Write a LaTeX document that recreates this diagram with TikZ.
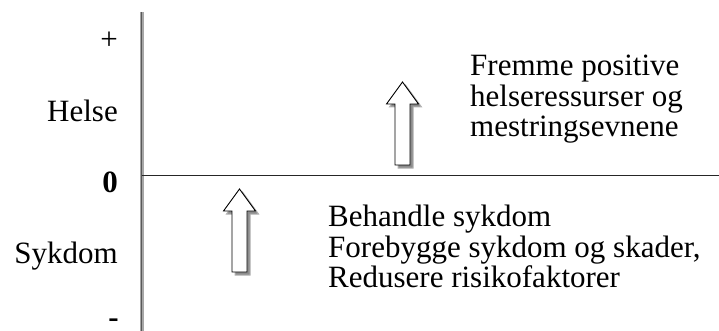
\documentclass[tikz,border=0pt]{standalone}
\usepackage{fontspec}
\setmainfont{Liberation Serif}
\usepackage{tikz}
\usetikzlibrary{positioning, calc}

\tikzset{
  lbl/.style={anchor=base east, inner sep=0pt, font=\fontsize{31}{30.5}\selectfont},
  txt/.style={anchor=north west, inner sep=0pt, align=left, font=\fontsize{31}{30.5}\selectfont},
  arrowbody/.style={draw=black, fill=white, line width=0.9pt, line join=miter},
  arrowshade/.style={fill=black!45, draw=black!30, line width=1pt}
}

% hollow up-arrow: #1 = centre x, #2 = tip y, #3 = bottom y
\newcommand{\uparrowshape}[3]{%
  (#1,#2) -- ++(16,22) -- ++(-8.5,0) -- (#1+7.5,#3) -- (#1-7.5,#3) -- (#1-7.5,#2+22) -- ++(-8.5,0) -- cycle}

\begin{document}
\begin{tikzpicture}[x=1pt, y=-1pt]
  \useasboundingbox (0,0) rectangle (719,331);

  % axes
  \draw[black!35, line width=4pt] (141.5,12) -- (141.5,340);
  \draw[black!65, line width=1.6pt] (141.5,12) -- (141.5,340);
  \draw[black!85, line width=1.3pt] (141.5,175.5) -- (719,175.5);

  % scale labels
  \node[lbl] (plus) at (118,50) {+};
  \node[lbl] (helse) at (118,122) {Helse};
  \node[lbl, font=\fontsize{31}{30.5}\selectfont\bfseries] (zero) at (118,192) {0};
  \node[lbl] (sykdom) at (118,263) {Sykdom};
  \node[lbl, font=\fontsize{31}{30.5}\selectfont\bfseries] (minus) at (119,327) {-};

  % arrows
  \fill[arrowshade] [shift={(3,3)}] \uparrowshape{239.5}{189}{272};
  \draw[arrowbody] \uparrowshape{239.5}{189}{272};
  \fill[arrowshade] [shift={(3,3)}] \uparrowshape{402.5}{82}{165};
  \draw[arrowbody] \uparrowshape{402.5}{82}{165};

  % texts
  \node[txt] (fremme) at (470,55) {Fremme positive\\helseressurser og\\mestringsevnene};
  \node[txt] (behandle) at (328,205) {Behandle sykdom\\Forebygge sykdom og skader,\\Redusere risikofaktorer};
\end{tikzpicture}
\end{document}
